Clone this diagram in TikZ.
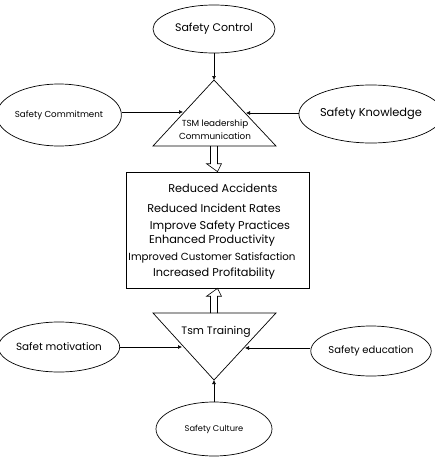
\documentclass[tikz,border=0pt]{standalone}
\usepackage{fontspec}
\setmainfont{Poppins}
\usetikzlibrary{positioning,shapes.geometric,arrows.meta,calc}

\begin{document}
\begin{tikzpicture}[x=1pt,y=-1pt,
        every node/.style={inner sep=0pt},
        factor/.style={draw,ellipse,line width=0.7pt},
        arr/.style={-{Latex[length=4pt,width=4pt]},line width=0.6pt},
        hollow/.style={line width=0.6pt,line join=miter,to path={
            let \p1=(\tikztostart), \p2=(\tikztotarget),
                \p3=($(\tikztotarget)!8pt!(\tikztostart)$) in
            (\x1-3.5pt,\y1) -- (\x1-3.5pt,\y3) -- (\x1-7.5pt,\y3) -- (\x2,\y2)
            -- (\x1+7.5pt,\y3) -- (\x1+3.5pt,\y3) -- (\x1+3.5pt,\y1)}},
        tri/.style={draw,line width=0.7pt,line join=miter},
        gain/.style={font=\fontsize{11.3}{13}\selectfont}
        ]
        \useasboundingbox (0,0) rectangle (434,458);

        % the upper factors
        \node[factor,minimum width=122pt,minimum height=48pt,font=\fontsize{11}{13}\selectfont] (ctrl) at (214,29) {Safety Control};
        \node[factor,minimum width=114pt,minimum height=62pt,font=\fontsize{8.7}{10}\selectfont] (commit) at (59,115) {Safety Commitment};
        \node[factor,minimum width=116pt,minimum height=58pt,font=\fontsize{11.4}{13}\selectfont] (know) at (371,114) {Safety Knowledge};

        % the leadership triangle
        \draw[tri] (153,146) coordinate (ul) -- (214,80) coordinate (utop) -- (276,146) coordinate (ur) -- cycle;
        \coordinate (ubase) at (214,146);
        \coordinate (uleft) at (183,112);
        \coordinate (uright) at (246,113);
        \node[align=center,font=\fontsize{8.8}{13}\selectfont] (lead) at (215,129.5) {TSM leadership\\Communication};

        % the results
        \node[draw,line width=0.7pt,minimum width=183pt,minimum height=116pt] (res) at (217.5,230) {};
        \node[gain] (r1) at (223,188) {Reduced Accidents};
        \node[gain] (r2) at (214,208) {Reduced Incident Rates};
        \node[gain] (r3) at (220,227) {Improve Safety Practices};
        \node[gain] (r4) at (212,241) {Enhanced Productivity};
        \node[gain,font=\fontsize{10.3}{12}\selectfont] (r5) at (212,258) {Improved Customer Satisfaction};
        \node[gain] (r6) at (214,274) {Increased Profitability};

        % the training triangle
        \draw[tri] (153,313) coordinate (ll) -- (276,313) coordinate (lr) -- (214,380) coordinate (lbot) -- cycle;
        \coordinate (ltop) at (214,313);
        \coordinate (lleft) at (182,347);
        \coordinate (lright) at (245,348);
        \node[font=\fontsize{10.8}{12}\selectfont] (train) at (216,332) {Tsm Training};

        % the lower factors
        \node[factor,minimum width=114pt,minimum height=50pt,font=\fontsize{10.4}{12}\selectfont] (motiv) at (59,347) {Safet motivation};
        \node[factor,minimum width=114pt,minimum height=50pt,font=\fontsize{10}{12}\selectfont] (educ) at (371,351) {Safety education};
        \node[factor,minimum width=116pt,minimum height=54pt,font=\fontsize{8.3}{10}\selectfont] (cult) at (214,429) {Safety Culture};

        % the arrows
        \draw[arr] (ctrl) -- (utop);
        \draw[arr] (commit.east |- uleft) -- (uleft);
        \draw[arr] (know.west |- uright) -- (uright);
        \draw[hollow] (ubase) to (res.north);
        \draw[hollow] (ltop) to (res.south);
        \draw[arr] (motiv.east |- lleft) -- (lleft);
        \draw[arr] (educ.west |- lright) -- (lright);
        \draw[arr] (cult) -- (lbot);
\end{tikzpicture}
\end{document}
